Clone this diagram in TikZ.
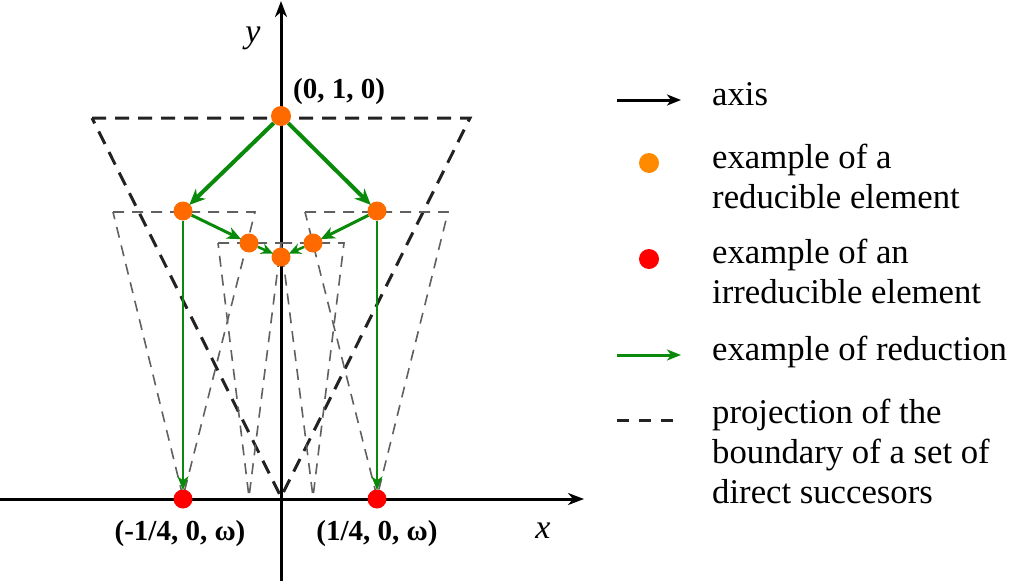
\documentclass[tikz,border=0pt]{standalone}
\usepackage{fontspec}
\setmainfont{LiberationSerif}[Extension=.ttf,UprightFont=*-Regular,BoldFont=*-Bold,ItalicFont=*-Italic,BoldItalicFont=*-BoldItalic]
\usetikzlibrary{arrows.meta}
\definecolor{dorange}{HTML}{FF6A00}
\definecolor{lorange}{HTML}{FF8A00}
\definecolor{dred}{HTML}{FF0000}
\definecolor{dgreen}{HTML}{0A8A0A}
\definecolor{dgray}{HTML}{222222}
\definecolor{lgray}{HTML}{606060}
\tikzset{
  axisline/.style={line width=3pt,-{Stealth[length=16pt,width=12pt,inset=5pt]}},
  odot/.style={circle,fill=dorange,minimum size=19pt,inner sep=0pt},
  rdot/.style={circle,fill=dred,minimum size=19pt,inner sep=0pt},
  red1/.style={draw=dgreen,line width=4pt,-{Stealth[length=16pt,width=14pt,inset=5pt]},shorten >=-1pt},
  red2/.style={draw=dgreen,line width=3pt,-{Stealth[length=14pt,width=12pt,inset=4pt]},shorten >=-1pt},
  red3/.style={draw=dgreen,line width=2.5pt,-{Stealth[length=12pt,width=11pt,inset=4pt]},shorten >=-1pt},
  red4/.style={draw=dgreen,line width=2pt,-{Stealth[length=14pt,width=11pt,inset=4pt]},shorten >=-1pt},
  bigdash/.style={draw=dgray,line width=3pt,dash pattern=on 14pt off 9pt},
  thindash/.style={draw=lgray,line width=1.6pt,dash pattern=on 11pt off 8pt},
  lbl/.style={font=\fontsize{29}{34}\selectfont\bfseries,inner sep=0pt},
  leg/.style={font=\fontsize{34.7}{40}\selectfont,inner sep=0pt,align=left,anchor=base west},
  axlbl/.style={font=\fontsize{34}{40}\selectfont\itshape,inner sep=0pt,anchor=base},
}
\begin{document}
\begin{tikzpicture}[x=1pt,y=-1pt]
\useasboundingbox (0,0) rectangle (1011,581);
% axes
\coordinate (xs) at (0,499);
\coordinate (xe) at (584,499);
\coordinate (ys) at (281,581);
\coordinate (ye) at (281,1);
\draw[axisline] (xs) -- (xe);
\draw[axisline] (ys) -- (ye);
% dashed triangles
\draw[bigdash] (92,118) -- (470,118) -- (281,497) -- cycle;
\draw[thindash] (113,212) -- (255,212) -- (183,497) -- cycle;
\draw[thindash] (305,212) -- (448,212) -- (377,497) -- cycle;
\draw[thindash] (218,243) -- (281,243) -- (249,497) -- cycle;
\draw[thindash] (281,243) -- (344,243) -- (313,497) -- cycle;
% elements
\node[odot,minimum size=20pt] (t) at (281,116) {};
\node[odot] (l) at (183,211) {};
\node[odot] (r) at (377,211) {};
\node[odot] (ml) at (249,243) {};
\node[odot] (mr) at (313,243) {};
\node[odot] (c) at (281,257) {};
\node[rdot] (rl) at (183,499) {};
\node[rdot] (rr) at (377,499) {};
% reductions
\draw[red1] (t) -- (l);
\draw[red1] (t) -- (r);
\draw[red2] (l) -- (ml);
\draw[red2] (r) -- (mr);
\draw[red3] (ml) -- (c);
\draw[red3] (mr) -- (c);
\draw[red4] (l) -- (rl);
\draw[red4] (r) -- (rr);
% labels
\node[lbl,anchor=base west] (lt) at (293,98) {(0, 1, 0)};
\node[lbl,anchor=base] (lrl) at (180,540) {(-1/4, 0, ω)};
\node[lbl,anchor=base] (lrr) at (377,540) {(1/4, 0, ω)};
\node[axlbl] (xl) at (543,538) {x};
\node[axlbl] (yl) at (253,42) {y};
% legend
\coordinate (a1) at (617,100); \coordinate (a2) at (681,100);
\draw[line width=3pt,-{Stealth[length=14pt,width=11pt,inset=4pt]}] (a1) -- (a2);
\node[leg] (ta) at (712,105) {axis};
\node[circle,fill=lorange,minimum size=20pt,inner sep=0pt] (lo) at (649,163) {};
\node[leg] (tb) at (712,208) {example of a\\reducible element};
\node[rdot,minimum size=20pt] (lr) at (649,259) {};
\node[leg] (tc) at (712,303) {example of an\\irreducible element};
\coordinate (g1) at (617,355); \coordinate (g2) at (681,355);
\draw[draw=dgreen,line width=3pt,-{Stealth[length=14pt,width=11pt,inset=4pt]}] (g1) -- (g2);
\node[leg] (td) at (712,360) {example of reduction};
\coordinate (d1) at (617,420); \coordinate (d2) at (683,420);
\draw[draw=dgray,line width=3pt,dash pattern=on 12pt off 10pt] (d1) -- (d2);
\node[leg] (te) at (712,503) {projection of the\\boundary of a set of\\direct succesors};
\end{tikzpicture}
\end{document}
